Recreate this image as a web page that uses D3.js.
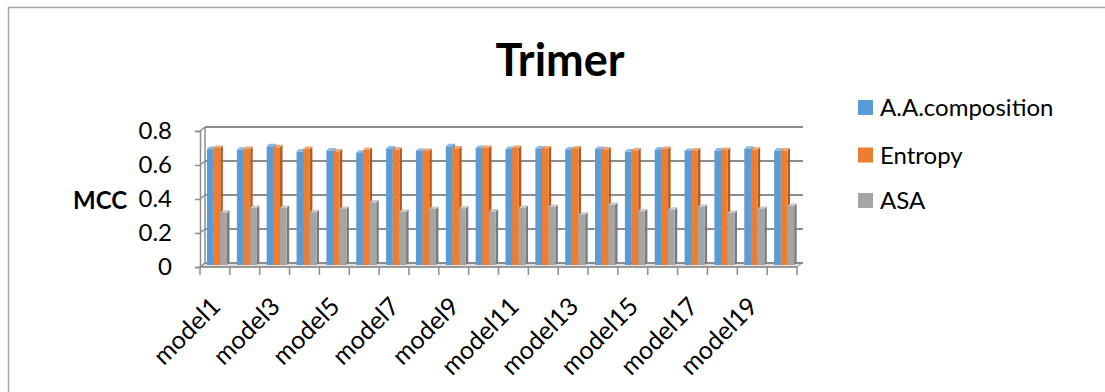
<!DOCTYPE html>
<html>
<head>
<meta charset="utf-8">
<script src="https://cdn.jsdelivr.net/npm/d3@7"></script>
<style>
  body { margin: 0; background: #fff; }
  svg { font-family: Lato, "Open Sans", sans-serif; }
</style>
</head>
<body>
<div id="container"></div>
<script>
/* DATA */
const models = d3.range(1, 21).map(i => "model" + i);
const seriesNames = ["A.A.composition", "Entropy", "ASA"];
const aaComposition = [0.682, 0.678, 0.698, 0.667, 0.673, 0.661, 0.686, 0.671, 0.698, 0.688,
                       0.682, 0.686, 0.680, 0.682, 0.667, 0.680, 0.671, 0.673, 0.684, 0.673];
const entropy = [0.688, 0.682, 0.692, 0.682, 0.668, 0.676, 0.678, 0.671, 0.686, 0.688,
                 0.688, 0.686, 0.686, 0.680, 0.674, 0.682, 0.673, 0.676, 0.678, 0.673];
const asa = [0.308, 0.335, 0.335, 0.310, 0.330, 0.367, 0.312, 0.330, 0.333, 0.314,
             0.335, 0.341, 0.296, 0.353, 0.316, 0.325, 0.341, 0.306, 0.330, 0.347];
const yTicks = [0, 0.2, 0.4, 0.6, 0.8];

const seriesValues = [aaComposition, entropy, asa];
const colors = ["#5B9BD5", "#ED7D31", "#A5A5A5"];
const sideColors = ["#3F73A3", "#B55A1E", "#7B7B7B"];
const topColors = ["#8DB9E6", "#F4A470", "#C8C8C8"];

/* CONSTANTS */
const width = 1105;
const height = 392;
const depthX = 5, depthY = -4;   // 3d offset of the back wall

const svg = d3.select("#container")
  .append("svg")
  .attr("width", width)
  .attr("height", height);

// chart frame
svg.append("rect")
  .attr("x", 8.5).attr("y", 7.5)
  .attr("width", 1110).attr("height", 400)
  .attr("fill", "none")
  .attr("stroke", "#a6a6a6")
  .attr("stroke-width", 1.5);

/* SCALES */
const xScale = d3.scaleBand()
  .domain(models)
  .range([200, 797]);

const yScale = d3.scaleLinear()
  .domain([0, 0.8])
  .range([267, 131]);

// series inside a category
const inner = d3.scaleBand()
  .domain(seriesNames)
  .range([6, 26]);

const grid = "#8c8c8c";

// floor
const x0 = xScale.range()[0], x1 = xScale.range()[1];
svg.append("polygon")
  .attr("points", [[x0, yScale(0)], [x1, yScale(0)], [x1 + depthX, yScale(0) + depthY], [x0 + depthX, yScale(0) + depthY]].join(" "))
  .attr("fill", "#e2e2e2")
  .attr("stroke", grid)
  .attr("stroke-width", 1);

// back wall gridlines and left wall connectors
yTicks.forEach(t => {
  const yf = yScale(t);
  svg.append("line")
    .attr("x1", x0 + depthX).attr("x2", x1 + depthX + 1)
    .attr("y1", yf + depthY).attr("y2", yf + depthY)
    .attr("stroke", grid).attr("stroke-width", 2);
  svg.append("line")
    .attr("x1", x0).attr("x2", x0 + depthX)
    .attr("y1", yf).attr("y2", yf + depthY)
    .attr("stroke", grid).attr("stroke-width", 1.5);
});
// back wall left edge
svg.append("line")
  .attr("x1", x0 + depthX).attr("x2", x0 + depthX)
  .attr("y1", yScale(0.8) + depthY).attr("y2", yScale(0) + depthY)
  .attr("stroke", grid).attr("stroke-width", 1.5);

/* BARS */
const bd = 2.5; // bar depth
const barShift = { x: 1, y: -2 };
const bars = [];
models.forEach((m, i) => {
  seriesNames.forEach((s, j) => {
    bars.push({ model: m, series: j, value: seriesValues[j][i] });
  });
});

const g = svg.append("g").attr("transform", `translate(${barShift.x},${barShift.y})`);
bars.forEach(d => {
  const x = xScale(d.model) + inner(seriesNames[d.series]);
  const w = inner.bandwidth();
  const top = yScale(d.value);
  const base = yScale(0);
  g.append("polygon")
    .attr("points", [[x + w, top], [x + w + bd, top - bd], [x + w + bd, base - bd], [x + w, base]].join(" "))
    .attr("fill", sideColors[d.series]);
  g.append("polygon")
    .attr("points", [[x, top], [x + bd, top - bd], [x + w + bd, top - bd], [x + w, top]].join(" "))
    .attr("fill", topColors[d.series]);
  g.append("rect")
    .attr("x", x).attr("y", top)
    .attr("width", w).attr("height", base - top)
    .attr("fill", colors[d.series]);
});

/* AXES */
const yAxis = svg.append("g")
  .attr("transform", `translate(${x0},0)`)
  .call(d3.axisLeft(yScale).tickValues(yTicks).tickSize(5).tickPadding(23)
    .tickFormat(d => d === 0 ? "0" : d3.format(".1f")(d)));
yAxis.select(".domain").attr("stroke", grid).attr("stroke-width", 1.5);
yAxis.selectAll(".tick line").attr("stroke", grid).attr("stroke-width", 1.5);
yAxis.selectAll("text")
  .attr("font-size", 24).attr("fill", "#000")
  .attr("font-family", "Lato, sans-serif");

// x axis baseline and ticks at band boundaries
svg.append("line")
  .attr("x1", x0).attr("x2", x1)
  .attr("y1", yScale(0)).attr("y2", yScale(0))
  .attr("stroke", grid).attr("stroke-width", 1.5);
const bounds = models.map(m => xScale(m)).concat([x1]);
svg.selectAll("line.xtick")
  .data(bounds)
  .join("line")
  .attr("class", "xtick")
  .attr("x1", d => d).attr("x2", d => d)
  .attr("y1", yScale(0)).attr("y2", yScale(0) + 8)
  .attr("stroke", grid).attr("stroke-width", 1.5);

// category labels, every other one
svg.selectAll("text.xlabel")
  .data(models.filter((m, i) => i % 2 === 0))
  .join("text")
  .attr("class", "xlabel")
  .attr("transform", d => `translate(${xScale(d) + xScale.bandwidth() / 2 + 7},${yScale(0) + 41}) rotate(-45)`)
  .attr("text-anchor", "end")
  .attr("font-size", 25)
  .text(d => d);

// y axis title
svg.append("text")
  .attr("x", 100).attr("y", 209)
  .attr("text-anchor", "middle")
  .attr("font-size", 24)
  .attr("font-weight", "bold")
  .text("MCC");

// title
svg.append("text")
  .attr("x", 560).attr("y", 76)
  .attr("text-anchor", "middle")
  .attr("font-size", 45)
  .attr("font-weight", "bold")
  .text("Trimer");

/* LEGEND */
const legendY = [107.5, 155, 200.5];
const legend = svg.selectAll("g.legend")
  .data(seriesNames)
  .join("g")
  .attr("class", "legend")
  .attr("transform", (d, i) => `translate(858,${legendY[i]})`);
legend.append("rect")
  .attr("x", 0).attr("y", -7.5)
  .attr("width", 15).attr("height", 15)
  .attr("fill", (d, i) => colors[i]);
legend.append("text")
  .attr("x", 22).attr("y", 8.5)
  .attr("font-size", 24)
  .text(d => d);
</script>
</body>
</html>
